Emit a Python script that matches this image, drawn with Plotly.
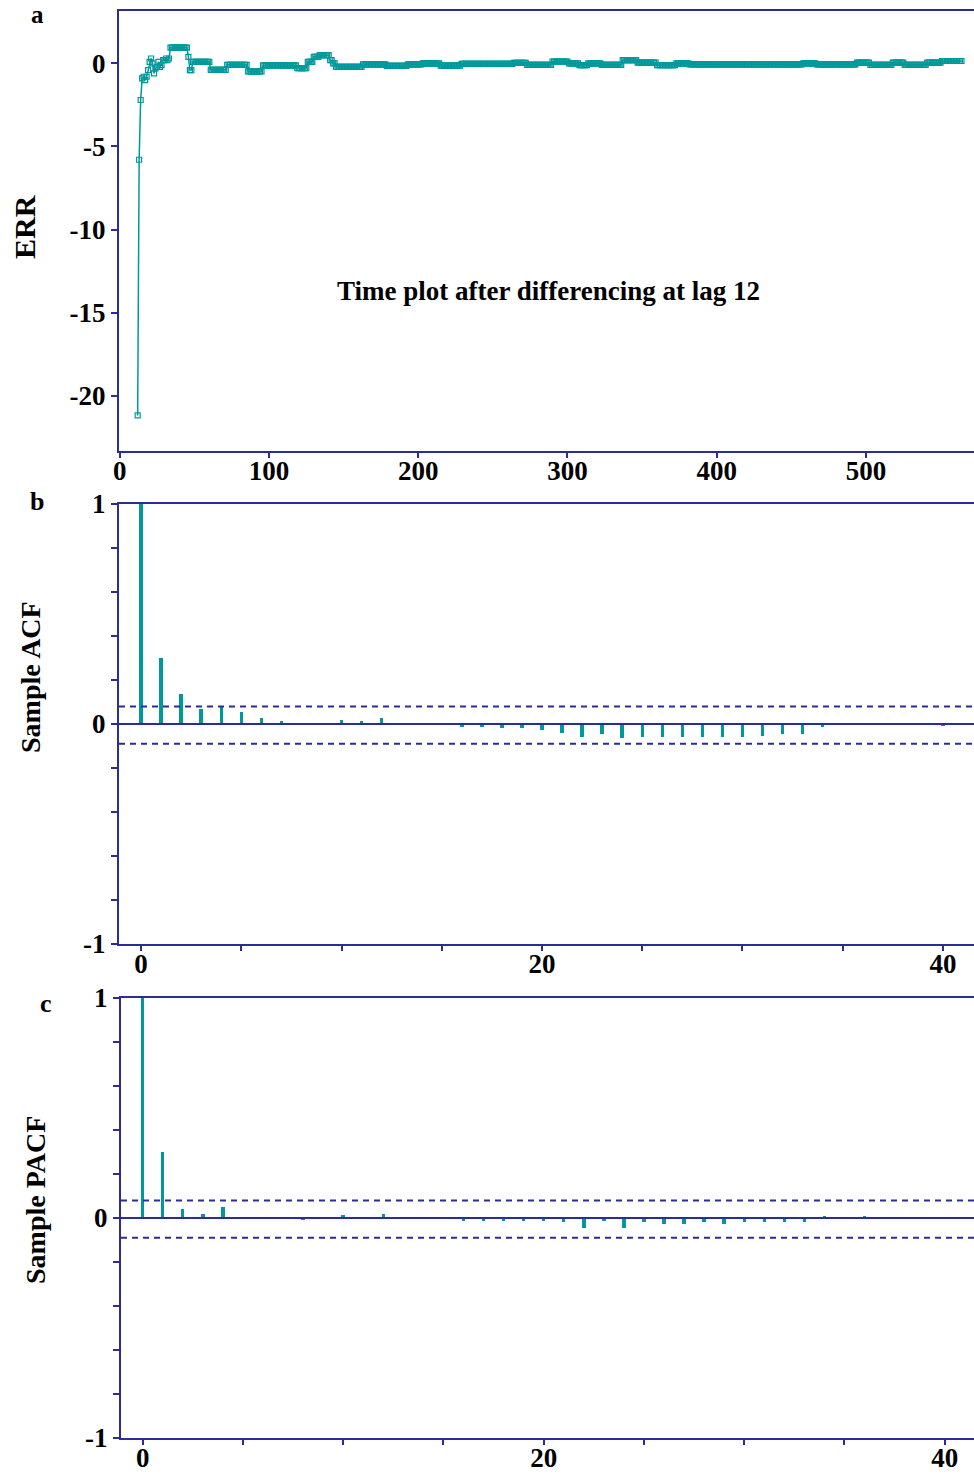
import numpy as np
import plotly.graph_objects as go

# ---------------- data ----------------
# Panel a: ERR series after differencing at lag 12 (levels, run lengths)
err_start = 12
err_levels = [-21.2, -5.8, -2.2, -0.9, -0.8, -1.0, -0.8, -0.4, 0.1, 0.3, 0.0, -0.6,
              -0.3, -0.2, 0.1, -0.2, -0.1, 0.2, 0.2, 0.3, 0.2, 0.3,
              0.95, 0.4, -0.4, 0.1, -0.38, -0.08, -0.48, -0.12, -0.28, 0.1, 0.4, 0.5,
              0.2, 0.0, -0.2, -0.05, -0.15, -0.05, 0.0, -0.13, -0.02, 0.03, -0.08, 0.12,
              0.0, -0.1, 0.0, -0.08, 0.2, 0.05, -0.1, 0.0, -0.05, 0.0, -0.05, 0.05,
              -0.08, 0.05, -0.08, 0.05, 0.15]
err_counts = [1] * 22 + [12, 1, 2, 12, 11, 14, 10, 23, 7, 4, 4, 7, 2, 2, 18, 16, 14, 10,
                         12, 14, 35, 9, 17, 11, 7, 6, 9, 14, 10, 13, 13, 9, 76, 9, 27, 9,
                         15, 8, 15, 10, 14]
assert len(err_levels) == len(err_counts)
err_values = np.repeat(err_levels, err_counts)
err_time = np.arange(err_start, err_start + len(err_values))

# Panel b: sample ACF, lags 0..40
lags = list(range(0, 41))
acf = [1.0, 0.30, 0.135, 0.07, 0.082, 0.055, 0.029, 0.012, 0.003, 0.0,
       0.02, 0.012, 0.029, 0.0, 0.0, 0.0, -0.012, -0.012, -0.02, -0.02,
       -0.027, -0.04, -0.058, -0.046, -0.062, -0.061, -0.061, -0.061, -0.061, -0.061,
       -0.061, -0.055, -0.046, -0.046, -0.012, 0.0, 0.0, 0.0, 0.0, 0.0, -0.01]
# Panel c: sample PACF, lags 0..40
pacf = [1.0, 0.30, 0.042, 0.02, 0.05, 0.0, 0.0, 0.0, -0.01, 0.0,
        0.015, 0.0, 0.02, 0.0, 0.0, 0.0, -0.012, -0.012, -0.012, -0.015,
        -0.012, -0.02, -0.045, -0.012, -0.045, -0.02, -0.027, -0.027, -0.02, -0.027,
        -0.02, -0.02, -0.02, -0.02, 0.01, 0.0, 0.01, 0.0, 0.0, 0.0, 0.0]
conf_upper = 0.08
conf_lower = -0.09

err_xticks = [0, 100, 200, 300, 400, 500]
err_xticklabels = ["0", "100", "200", "300", "400", "500"]
err_yticks = [0, -5, -10, -15, -20]
err_yticklabels = ["0", "-5", "-10", "-15", "-20"]
lag_ticks = list(range(0, 45, 5))
lag_ticklabels = ["0", "", "", "", "20", "", "", "", "40"]
cf_ticks = [-1, -0.8, -0.6, -0.4, -0.2, 0, 0.2, 0.4, 0.6, 0.8, 1]
cf_ticklabels = ["-1", "", "", "", "", "0", "", "", "", "", "1"]

# ---------------- style ----------------
W, H = 974, 1475
TEAL = "#00999a"
NAVY = "#2c2c96"
FONT = "Liberation Serif"
TICKFONT = dict(family=FONT, size=27, color="black", weight="bold")


def py(y):
    return 1 - y / H


fig = go.Figure()

fig.add_trace(go.Scatter(
    x=err_time, y=err_values, mode="lines+markers",
    line=dict(color=TEAL, width=1.5),
    marker=dict(symbol="square-open", size=5, color=TEAL, line=dict(width=1.2, color=TEAL)),
    xaxis="x", yaxis="y", showlegend=False))

fig.add_trace(go.Bar(x=lags, y=acf, width=0.17, marker=dict(color=TEAL, line=dict(width=0)),
                     xaxis="x2", yaxis="y2", showlegend=False))
fig.add_trace(go.Bar(x=lags, y=pacf, width=0.17, marker=dict(color=TEAL, line=dict(width=0)),
                     xaxis="x3", yaxis="y3", showlegend=False))

axis_common = dict(showline=True, linecolor=NAVY, linewidth=2, ticks="outside",
                   tickcolor=NAVY, tickwidth=2, showgrid=False,
                   zeroline=False, tickfont=TICKFONT, automargin=False)
xaxis_common = dict(axis_common, ticklen=5, ticklabelstandoff=-10, mirror=True)
yaxis_common = dict(axis_common, ticklen=6)

layout = dict(
    width=W, height=H, margin=dict(l=0, r=0, t=0, b=0, pad=0, autoexpand=False),
    paper_bgcolor="white", plot_bgcolor="white", bargap=0,
    xaxis=dict(domain=[119 / W, 1], range=[-0.5, 572.4], tickvals=err_xticks,
               ticktext=err_xticklabels, anchor="y", **xaxis_common),
    yaxis=dict(domain=[py(451), py(11)], range=[-23.34, 3.16], tickvals=err_yticks,
               ticktext=err_yticklabels, anchor="x", **yaxis_common),
    xaxis2=dict(domain=[119 / W, 1], range=[-1.1, 41.55], tickvals=lag_ticks,
                ticktext=lag_ticklabels, anchor="y2", **xaxis_common),
    yaxis2=dict(domain=[py(944), py(504)], range=[-1, 1], tickvals=cf_ticks,
                ticktext=cf_ticklabels, anchor="x2", **yaxis_common),
    xaxis3=dict(domain=[121 / W, 1], range=[-1.08, 41.46], tickvals=lag_ticks,
                ticktext=lag_ticklabels, anchor="y3", **xaxis_common),
    yaxis3=dict(domain=[py(1438), py(998)], range=[-1, 1], tickvals=cf_ticks,
                ticktext=cf_ticklabels, anchor="x3", **yaxis_common),
)
fig.update_layout(**layout)

shapes = []
for xa, ya in (("x2", "y2"), ("x3", "y3")):
    shapes.append(dict(type="line", xref=f"{xa} domain", yref=ya, x0=0, x1=1, y0=0, y1=0,
                       line=dict(color=NAVY, width=2)))
    for v in (conf_upper, conf_lower):
        shapes.append(dict(type="line", xref=f"{xa} domain", yref=ya, x0=0, x1=1, y0=v, y1=v,
                           line=dict(color=NAVY, width=2, dash="6px,5px")))
fig.update_layout(shapes=shapes)

ann_font = dict(family=FONT, size=28, color="black")
annotations = [
    dict(text="<b>Time plot after differencing at lag 12</b>", x=548 / W, y=py(291),
         xref="paper", yref="paper", showarrow=False, xanchor="center", yanchor="middle",
         font=dict(family=FONT, size=27, color="black")),
    dict(text="<b>a</b>", x=37 / W, y=py(15), xref="paper", yref="paper", showarrow=False,
         xanchor="center", yanchor="middle", font=dict(family=FONT, size=25, color="black")),
    dict(text="<b>b</b>", x=37 / W, y=py(502), xref="paper", yref="paper", showarrow=False,
         xanchor="center", yanchor="middle", font=dict(family=FONT, size=26, color="black")),
    dict(text="<b>c</b>", x=46 / W, y=py(1003), xref="paper", yref="paper", showarrow=False,
         xanchor="center", yanchor="middle", font=dict(family=FONT, size=26, color="black")),
    dict(text="<b>ERR</b>", x=24 / W, y=py(227), xref="paper", yref="paper", showarrow=False,
         textangle=-90, xanchor="center", yanchor="middle", font=dict(family=FONT, size=30, color="black")),
    dict(text="<b>Sample ACF</b>", x=30 / W, y=py(677), xref="paper", yref="paper",
         showarrow=False, textangle=-90, xanchor="center", yanchor="middle", font=ann_font),
    dict(text="<b>Sample PACF</b>", x=35 / W, y=py(1200), xref="paper", yref="paper",
         showarrow=False, textangle=-90, xanchor="center", yanchor="middle", font=ann_font),
]
fig.update_layout(annotations=annotations)

fig.write_html("out.html")
